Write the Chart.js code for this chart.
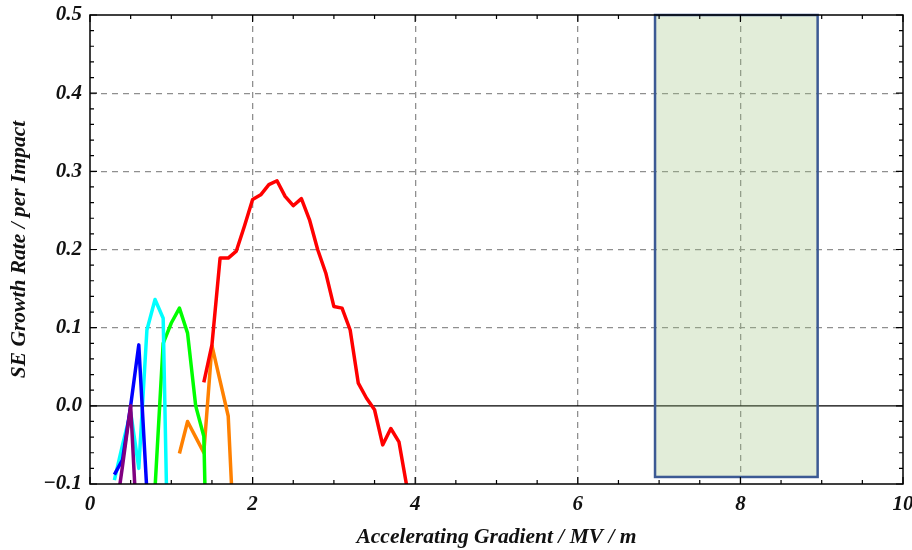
<!DOCTYPE html>
<html>
<head>
<meta charset="utf-8">
<script src="https://cdn.jsdelivr.net/npm/chart.js@4.4.1/dist/chart.umd.min.js"></script>
<style>
  html, body { margin: 0; padding: 0; background: #fff; }
  #wrap { width: 912px; height: 550px; }
</style>
</head>
<body>
<div id="wrap"><canvas id="growthChart" width="912" height="550"></canvas></div>
<script>
// accelerating gradient (MV/m) and SE growth rate per impact, one pair per curve
const redX = [1.4, 1.5, 1.6, 1.7, 1.8, 1.9, 2.0, 2.1, 2.2, 2.3, 2.4, 2.5, 2.6, 2.7, 2.8, 2.9, 3.0, 3.1, 3.2, 3.3, 3.4, 3.5, 3.6, 3.7, 3.8, 3.9];
const redY = [0.030, 0.078, 0.189, 0.189, 0.198, 0.230, 0.264, 0.270, 0.283, 0.288, 0.268, 0.256, 0.265, 0.238, 0.200, 0.170, 0.127, 0.125, 0.097, 0.029, 0.010, -0.005, -0.050, -0.029, -0.046, -0.105];

const orangeX = [1.1, 1.2, 1.3, 1.4, 1.5, 1.6, 1.7, 1.8];
const orangeY = [-0.061, -0.020, -0.040, -0.060, 0.077, 0.032, -0.013, -0.23];

const greenX = [0.8, 0.9, 1.0, 1.1, 1.2, 1.3, 1.4, 1.5];
const greenY = [-0.105, 0.080, 0.106, 0.125, 0.093, 0.000, -0.039, -0.5];

const cyanX = [0.3, 0.4, 0.5, 0.6, 0.7, 0.8, 0.9, 1.0];
const cyanY = [-0.095, -0.050, -0.008, -0.080, 0.097, 0.136, 0.112, -0.42];

const blueX = [0.3, 0.4, 0.5, 0.6, 0.7];
const blueY = [-0.088, -0.069, 0.000, 0.078, -0.11];

const purpleX = [0.3, 0.4, 0.5, 0.6];
const purpleY = [-0.15, -0.077, 0.000, -0.20];

// shaded window
const windowX = [6.95, 8.95];
const windowY = [-0.091, 0.5];

const xRange = [0, 10];
const yRange = [-0.1, 0.5];

const serif = '"Liberation Serif", "DejaVu Serif", serif';

function pts(xs, ys) {
    return xs.map((x, i) => ({ x: x, y: ys[i] }));
}

function curve(xs, ys, color) {
    return {
        data: pts(xs, ys),
        borderColor: color,
        backgroundColor: color,
        borderWidth: 3.5,
        borderJoinStyle: 'round',
        pointRadius: 0,
        showLine: true,
        clip: 0
    };
}

const near = (a, b) => Math.abs(a - b) < 1e-9;

const framePlugin = {
    id: 'frame',
    beforeDatasetsDraw(chart) {
        const { ctx, chartArea: a, scales: { x, y } } = chart;
        ctx.save();
        // zero line
        ctx.strokeStyle = '#000';
        ctx.lineWidth = 1.3;
        ctx.beginPath();
        ctx.moveTo(a.left, y.getPixelForValue(0));
        ctx.lineTo(a.right, y.getPixelForValue(0));
        ctx.stroke();
        // window
        const x0 = x.getPixelForValue(windowX[0]);
        const x1 = x.getPixelForValue(windowX[1]);
        const y0 = y.getPixelForValue(windowY[1]);
        const y1 = y.getPixelForValue(windowY[0]);
        ctx.fillStyle = 'rgba(158, 195, 128, 0.3)';
        ctx.fillRect(x0, y0, x1 - x0, y1 - y0);
        ctx.strokeStyle = '#3c5a94';
        ctx.lineWidth = 2.5;
        ctx.strokeRect(x0, y0, x1 - x0, y1 - y0);
        ctx.restore();
    },
    afterDatasetsDraw(chart) {
        const { ctx, chartArea: a, scales: { x, y } } = chart;
        ctx.save();
        ctx.strokeStyle = '#000';
        ctx.lineWidth = 1.2;
        ctx.beginPath();
        // inward ticks, bottom and top
        for (let i = 0; i <= 20; i++) {
            const px = x.getPixelForValue(i * 0.5);
            const len = i % 4 === 0 ? 7 : 4;
            ctx.moveTo(px, a.bottom);
            ctx.lineTo(px, a.bottom - len);
            ctx.moveTo(px, a.top);
            ctx.lineTo(px, a.top + len);
        }
        // inward ticks, left and right
        for (let i = -5; i <= 25; i++) {
            const py = y.getPixelForValue(i * 0.02);
            const len = i % 5 === 0 ? 7 : 4;
            ctx.moveTo(a.left, py);
            ctx.lineTo(a.left + len, py);
            ctx.moveTo(a.right, py);
            ctx.lineTo(a.right - len, py);
        }
        ctx.stroke();
        ctx.lineWidth = 1.5;
        ctx.strokeRect(a.left, a.top, a.right - a.left, a.bottom - a.top);
        ctx.restore();
    }
};

const tickFont = { family: serif, size: 21, weight: 'bold', style: 'italic' };
const titleFont = { family: serif, size: 21.5, weight: 'bold', style: 'italic' };

new Chart(document.getElementById('growthChart').getContext('2d'), {
    type: 'scatter',
    data: {
        datasets: [
            curve(purpleX, purpleY, '#800080'),
            curve(blueX, blueY, '#0000ff'),
            curve(cyanX, cyanY, '#00ffff'),
            curve(greenX, greenY, '#00ff00'),
            curve(redX, redY, '#ff0000'),
            curve(orangeX, orangeY, '#ff8000')
        ]
    },
    options: {
        responsive: false,
        animation: false,
        layout: { padding: { top: 15, right: 9, left: 0, bottom: 0 } },
        plugins: {
            legend: { display: false },
            tooltip: { enabled: false }
        },
        scales: {
            x: {
                type: 'linear',
                min: xRange[0],
                max: xRange[1],
                afterFit: s => { s.height = 66; s.paddingLeft = 0; s.paddingRight = 0; },
                ticks: {
                    stepSize: 2,
                    padding: 8,
                    color: '#111',
                    font: tickFont,
                    maxRotation: 0
                },
                grid: {
                    drawTicks: false,
                    lineWidth: 1.3,
                    color: c => (near(c.tick.value, 0) || near(c.tick.value, 10)) ? 'rgba(0,0,0,0)' : '#8f8f8f'
                },
                border: { display: false, dash: [6, 5] },
                title: {
                    display: true,
                    text: 'Accelerating Gradient / MV / m',
                    color: '#111',
                    font: titleFont,
                    padding: { top: 0, bottom: 0 }
                }
            },
            y: {
                type: 'linear',
                min: yRange[0],
                max: yRange[1],
                afterFit: s => { s.width = 90; s.paddingTop = 0; s.paddingBottom = 0; },
                ticks: {
                    stepSize: 0.1,
                    padding: 8,
                    color: '#111',
                    font: tickFont,
                    callback: v => near(v, 0) ? '0.0' : v.toFixed(1).replace('-', '\u2212')
                },
                grid: {
                    drawTicks: false,
                    lineWidth: 1.3,
                    color: c => (near(c.tick.value, 0) || near(c.tick.value, -0.1) || near(c.tick.value, 0.5)) ? 'rgba(0,0,0,0)' : '#8f8f8f'
                },
                border: { display: false, dash: [6, 5] },
                title: {
                    display: true,
                    text: 'SE Growth Rate / per Impact',
                    color: '#111',
                    font: titleFont,
                    padding: { top: 7, bottom: 0 }
                }
            }
        }
    },
    plugins: [framePlugin]
});
</script>
</body>
</html>
